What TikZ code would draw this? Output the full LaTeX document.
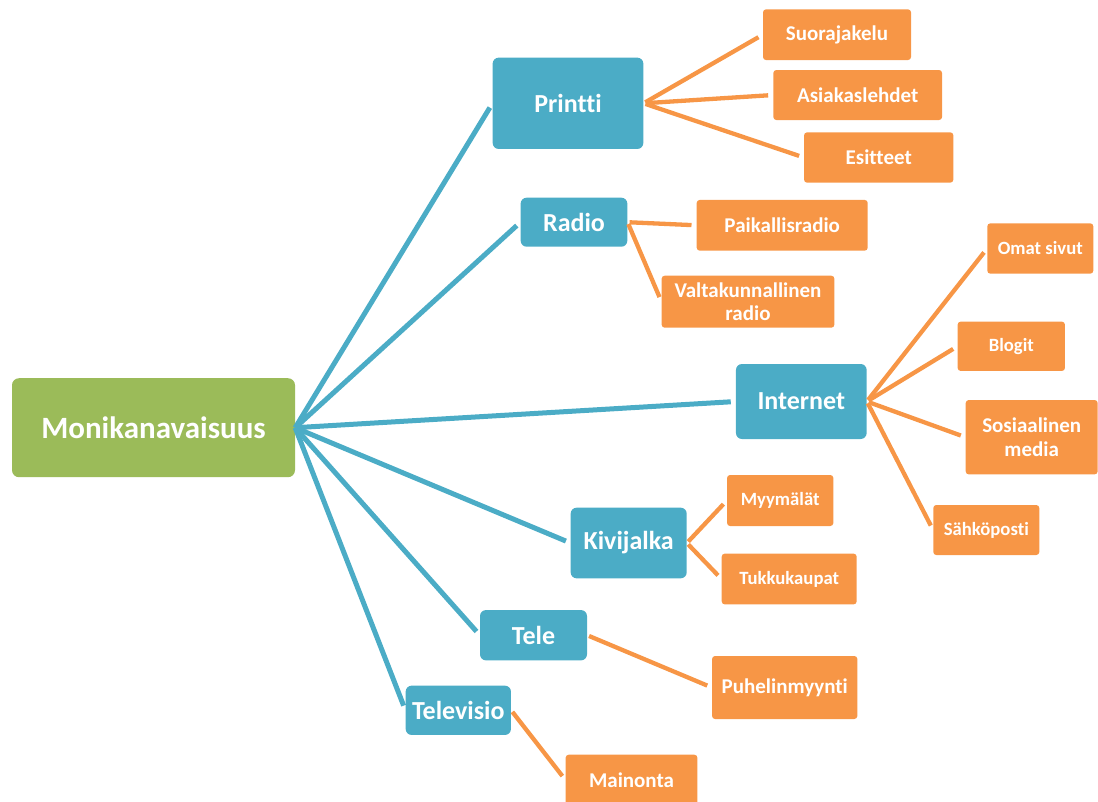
\documentclass[tikz,border=0pt]{standalone}
\usepackage{fontspec}
\setmainfont[Ligatures=NoCommon]{Carlito}
\definecolor{rootgreen}{HTML}{9BBB59}
\definecolor{chanblue}{HTML}{4BACC6}
\definecolor{subor}{HTML}{F79646}
\begin{document}
\begin{tikzpicture}[x=1pt,y=-1pt,
  rootbox/.style={fill=rootgreen, rounded corners=7pt, text=white, inner sep=0pt,
    font=\bfseries\fontsize{31}{36}\selectfont},
  chanbox/.style={fill=chanblue, rounded corners=6pt, text=white, inner sep=0pt,
    font=\bfseries\fontsize{26}{30}\selectfont},
  leafbox/.style={fill=subor, rounded corners=3pt, text=white, inner sep=0pt, align=center,
    font=\bfseries\fontsize{21}{23.3}\selectfont},
  smallleaf/.style={leafbox, font=\bfseries\fontsize{18.7}{22}\selectfont},
  sz/.style 2 args={minimum width=#1pt, minimum height=#2pt},
  bluelink/.style={draw=chanblue, line width=5pt, shorten >=5pt},
  orangelink/.style={draw=subor, line width=4.3pt, shorten <=2pt, shorten >=5pt}]
\useasboundingbox (0,0) rectangle (1098,801);
\clip (0,0) rectangle (1098,801);

% root
\node[rootbox, sz={283}{99}] (root) at (153.5,427.7) {Monikanavaisuus};

% channels
\node[chanbox, sz={150.7}{91.3}] (printti) at (568,103.3) {Printti};
\node[chanbox, sz={106.7}{49}] (radio) at (574,222.2) {Radio};
\node[chanbox, sz={130.7}{75}] (internet) at (801.3,401.5) {Internet};
\node[chanbox, sz={116}{70.7}] (kivijalka) at (628.7,543) {Kivijalka};
\node[chanbox, sz={107}{50.3}] (tele) at (533.5,635.2) {Tele};
\node[chanbox, sz={105.3}{49.3}] (televisio) at (458.3,710.3) {Televisio};

% leaves
\node[leafbox, sz={148}{50.7}] (suora) at (837,34.7) {Suorajakelu};
\node[leafbox, sz={168.7}{50}] (asiakas) at (857.7,95) {Asiakaslehdet};
\node[leafbox, sz={149.3}{50.3}] (esitteet) at (878.7,157.5) {Esitteet};
\node[leafbox, sz={171}{50.7}] (paik) at (782.2,225.3) {Paikallisradio};
\node[leafbox, sz={172.7}{52}] (valta) at (748,301.7) {Valtakunnallinen\\radio};
\node[smallleaf, sz={106}{50.3}] (omat) at (1040.3,248.5) {Omat sivut};
\node[smallleaf, sz={107.3}{49.3}] (blogit) at (1011.3,346.3) {Blogit};
\node[leafbox, sz={132}{74.3}] (sosiaal) at (1031.7,437.2) {Sosiaalinen\\media};
\node[smallleaf, sz={106}{50}] (sahko) at (986.3,530) {Sähköposti};
\node[smallleaf, sz={106.3}{51}] (myym) at (780.2,500.5) {Myymälät};
\node[smallleaf, sz={135}{50.7}] (tukku) at (789.2,579) {Tukkukaupat};
\node[leafbox, sz={145.3}{63}] (puhelin) at (784.7,687.5) {Puhelinmyynti};
\node[leafbox, sz={131.7}{50.6}] (mainonta) at (631.5,780) {Mainonta};

% root to channels
\foreach \c in {printti,radio,internet,kivijalka,tele,televisio}
  \draw[bluelink] (root.east) -- (\c.west);

% channels to leaves
\foreach \p/\c in {printti/suora,printti/asiakas,printti/esitteet,
                   radio/paik,radio/valta,
                   internet/omat,internet/blogit,internet/sosiaal,internet/sahko,
                   kivijalka/myym,kivijalka/tukku,
                   tele/puhelin,televisio/mainonta}
  \draw[orangelink] (\p.east) -- (\c.west);
\end{tikzpicture}
\end{document}
